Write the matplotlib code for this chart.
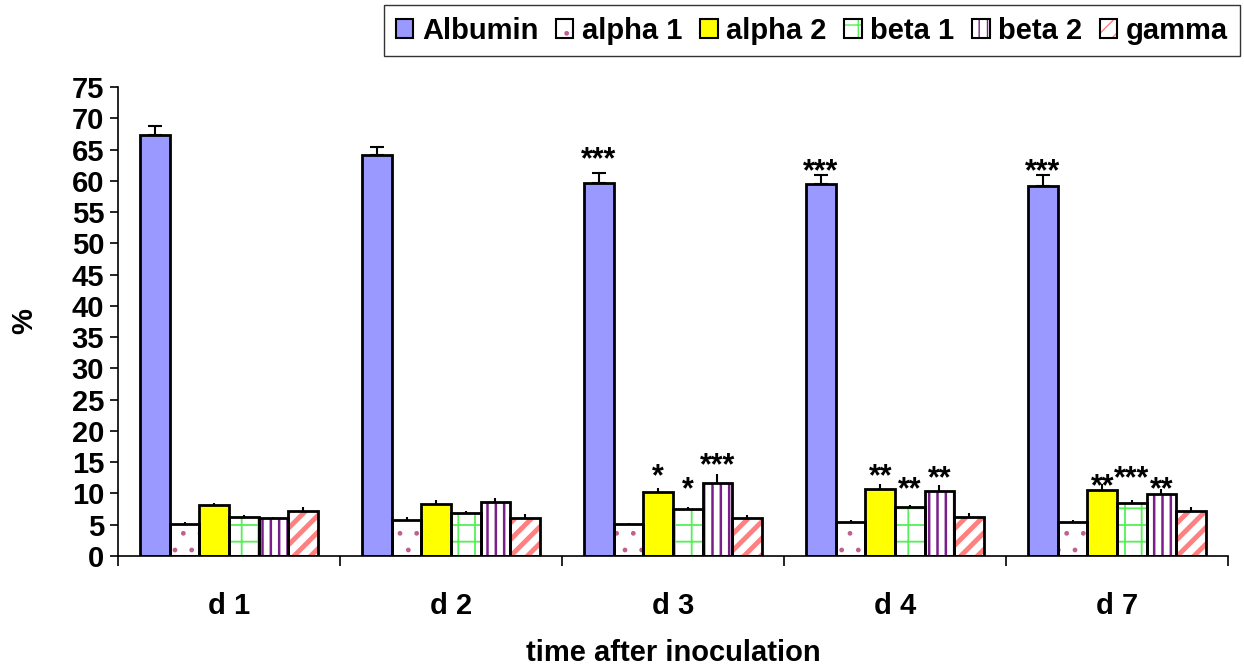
import matplotlib
matplotlib.use("Agg")
import matplotlib.pyplot as plt
import matplotlib.transforms as mtransforms
from matplotlib.patches import Patch
from matplotlib.legend_handler import HandlerTuple
import numpy as np

plt.rcParams['font.family'] = ['Liberation Sans', 'DejaVu Sans']
plt.rcParams['font.weight'] = 'bold'

# ---- data ----
groups = ["d 1", "d 2", "d 3", "d 4", "d 7"]
series = ["Albumin", "alpha 1", "alpha 2", "beta 1", "beta 2", "gamma"]

albumin = [67.4, 64.2, 59.7, 59.5, 59.1]
alpha1 = [5.1, 5.7, 5.1, 5.5, 5.5]
alpha2 = [8.1, 8.3, 10.2, 10.7, 10.5]
beta1 = [6.3, 6.9, 7.5, 7.8, 8.4]
beta2 = [6.0, 8.6, 11.6, 10.4, 9.9]
gamma = [7.2, 6.0, 6.0, 6.3, 7.2]

albumin_err = [1.4, 1.2, 1.5, 1.4, 1.9]
alpha1_err = [0.3, 0.6, 0.2, 0.3, 0.3]
alpha2_err = [0.3, 0.6, 0.6, 0.75, 1.0]
beta1_err = [0.2, 0.3, 0.3, 0.4, 0.5]
beta2_err = [0.3, 0.7, 1.5, 1.0, 0.8]
gamma_err = [0.7, 0.7, 0.6, 0.6, 0.6]

albumin_sig = ["", "", "***", "***", "***"]
alpha1_sig = ["", "", "", "", ""]
alpha2_sig = ["", "", "*", "**", "**"]
beta1_sig = ["", "", "*", "**", "***"]
beta2_sig = ["", "", "***", "**", "**"]
gamma_sig = ["", "", "", "", ""]

values = [albumin, alpha1, alpha2, beta1, beta2, gamma]
errors = [albumin_err, alpha1_err, alpha2_err, beta1_err, beta2_err, gamma_err]
sigs = [albumin_sig, alpha1_sig, alpha2_sig, beta1_sig, beta2_sig, gamma_sig]

# gap (data units) between error-bar top and centre of significance stars
sig_gap = [
    [0, 0, 3.7, 2.1, 2.0],
    [0, 0, 0, 0, 0],
    [0, 0, 3.4, 2.65, 1.1],
    [0, 0, 4.3, 3.8, 4.9],
    [0, 0, 2.8, 2.4, 1.4],
    [0, 0, 0, 0, 0],
]

# ---- styles ----
styles = [
    dict(face="#9999ff", hatch=None, hcolor=None, hlw=1.0),
    dict(face="white", hatch=".", hcolor="#c06090", hlw=1.0),
    dict(face="#ffff00", hatch=None, hcolor=None, hlw=1.0),
    dict(face="white", hatch="+", hcolor="#55f055", hlw=1.3),
    dict(face="white", hatch="||", hcolor="#7a1f8a", hlw=1.8),
    dict(face="white", hatch="//", hcolor="#ff8080", hlw=3.5),
]

fig = plt.figure(figsize=(12.44, 6.69), dpi=100)
ax = fig.add_axes([118 / 1244, 1 - 556 / 669, 1110 / 1244, 469 / 669])

x = np.arange(len(groups))
n = len(series)
w = 0.8 / n
fs = 21
sfs = 22

legend_handles = []
for j, (name, vals, errs, st) in enumerate(zip(series, values, errors, styles)):
    pos = x - 0.4 + w * (j + 0.5)
    if st["hatch"]:
        b = ax.bar(pos, vals, w, color=st["face"], edgecolor=st["hcolor"],
                   hatch=st["hatch"], linewidth=0, zorder=2)
        for p in b:
            if hasattr(p, "set_hatch_linewidth"):
                p.set_hatch_linewidth(st["hlw"])
    else:
        ax.bar(pos, vals, w, color=st["face"], linewidth=0, zorder=2)
    ax.bar(pos, vals, w, facecolor="none", edgecolor="black", linewidth=2.0, zorder=3)
    cap = 5 if j == 0 else 0
    ax.errorbar(pos, vals, yerr=[np.zeros(len(errs)), errs], fmt="none",
                ecolor="black", elinewidth=1.5, capsize=cap, capthick=1.5, zorder=4)

    # legend handle (hatched fill overlaid with black outline)
    hp = Patch(facecolor=st["face"], edgecolor=st["hcolor"] if st["hatch"] else "none",
               hatch=st["hatch"], linewidth=0)
    if st["hatch"] and hasattr(hp, "set_hatch_linewidth"):
        hp.set_hatch_linewidth(st["hlw"])
    op = Patch(facecolor="none", edgecolor="black", linewidth=1.5)
    legend_handles.append((hp, op))

    # significance stars
    for i in range(len(groups)):
        s = sigs[j][i]
        if s:
            ytop = vals[i] + errs[i] + sig_gap[j][i]
            tr = mtransforms.offset_copy(ax.transData, fig=fig, x=0, y=-0.58 * sfs,
                                         units="points")
            ax.text(pos[i], ytop, s, ha="center", va="baseline", fontsize=sfs,
                    fontweight="bold", transform=tr, zorder=5)

ax.set_xlim(-0.5, len(groups) - 0.5)
ax.set_ylim(0, 75)
ax.set_yticks(np.arange(0, 76, 5))
ax.set_xticks(np.arange(-0.5, len(groups), 1.0))
ax.set_xticklabels([])
ax.set_xticks(x, minor=True)
ax.set_xticklabels(groups, minor=True)
ax.tick_params(axis="x", which="minor", length=0, pad=26, labelsize=fs)
ax.tick_params(axis="x", which="major", length=7, width=1.2, direction="out")
ax.tick_params(axis="y", length=6, width=1.2, direction="out", labelsize=fs, pad=4)
for lab in ax.get_yticklabels() + ax.get_xticklabels(minor=True):
    lab.set_fontweight("bold")

for sp in ["top", "right"]:
    ax.spines[sp].set_visible(False)
for sp in ["left", "bottom"]:
    ax.spines[sp].set_linewidth(1.2)

ax.set_xlabel("time after inoculation", fontsize=fs, fontweight="bold")
ax.xaxis.set_label_coords(0.5, -0.178)
ax.set_ylabel("%", fontsize=fs, fontweight="bold")
ax.yaxis.set_label_coords(-0.072, 0.5)

leg = fig.legend(legend_handles, series, loc="upper right",
                 bbox_to_anchor=(1240 / 1244, 1 - 5 / 669), ncol=6,
                 handler_map={tuple: HandlerTuple(ndivide=1, pad=0)},
                 prop=dict(size=fs, weight="bold"), frameon=True, fancybox=False,
                 edgecolor="black", handlelength=0.6, handleheight=0.6,
                 handletextpad=0.3, columnspacing=0.6, borderpad=0.4,
                 borderaxespad=0)
leg.get_frame().set_linewidth(1.0)

fig.savefig("out.png", dpi=100)
